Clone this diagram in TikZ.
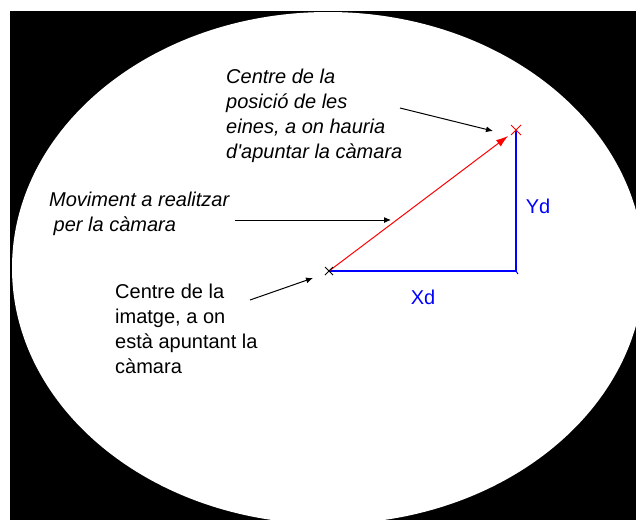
\documentclass[tikz,border=0pt]{standalone}
\usepackage{fontspec}
\setmainfont{Liberation Sans}
\usetikzlibrary{arrows.meta,calc}
\definecolor{pblue}{RGB}{0,0,255}
\definecolor{pred}{RGB}{255,0,0}
\begin{document}
\begin{tikzpicture}[x=1pt,y=-1pt,
  lbl/.style={anchor=base west, inner sep=0pt, align=left, font=\fontsize{20}{25}\selectfont},
  ital/.style={lbl, font=\fontsize{20}{25}\selectfont\itshape},
  axislbl/.style={inner sep=0pt, text=pblue, font=\fontsize{20}{24}\selectfont},
  pointer/.style={draw=black, line width=1pt, -{Latex[length=7pt,width=6pt]}},
  move/.style={draw=pred, line width=1pt, -{Latex[length=12pt,width=8pt]}},
  comp/.style={draw=pblue, line width=1.2pt},
  cross/.style={line width=1pt}]
\useasboundingbox (0,0) rectangle (636,520);
\fill[black] (10,11) rectangle (636,520);
\begin{scope}
  \clip (10,11) rectangle (636,520);
  \fill[white] (328,268) ellipse [x radius=316, y radius=256];
\end{scope}
% key points
\coordinate (A) at (329,271);
\coordinate (B) at (516,130);
\coordinate (C) at (516,271);
% components
\draw[comp] (A) -- (C) -- (B);
\draw[comp, line width=1pt] (C) -- ++(2,3);
% movement
\draw[move, shorten >=10pt] (A) -- (B);
% crosses
\draw[cross, draw=black] ($(A)+(-4,-4)$) -- ($(A)+(4,4)$) ($(A)+(-4,4)$) -- ($(A)+(4,-4)$);
\draw[cross, draw=pred] ($(B)+(-5,-5)$) -- ($(B)+(5,5)$) ($(B)+(-5,5)$) -- ($(B)+(5,-5)$);
% labels (anchor is the baseline of the last line)
\node[axislbl] (xd) at (423,297) {Xd};
\node[axislbl] (yd) at (538,206) {Yd};
\node[ital] (top) at (226,158) {Centre de la\\posició de les\\eines, a on hauria\\d\textquotesingle apuntar la càmara};
\node[ital] (mov) at (49,231) {Moviment a realitzar\\\hspace*{4.5pt}per la càmara};
\node[lbl] (cen) at (115,373) {Centre de la\\imatge, a on\\està apuntant la\\càmara};
% pointers
\coordinate (p1s) at (400,108);
\coordinate (p1e) at (493,131);
\coordinate (p2s) at (235,220);
\coordinate (p2e) at (391,220);
\coordinate (p3s) at (250,300);
\coordinate (p3e) at (313,278);
\draw[pointer] (p1s) -- (p1e);
\draw[pointer] (p2s) -- (p2e);
\draw[pointer] (p3s) -- (p3e);
\end{tikzpicture}
\end{document}
